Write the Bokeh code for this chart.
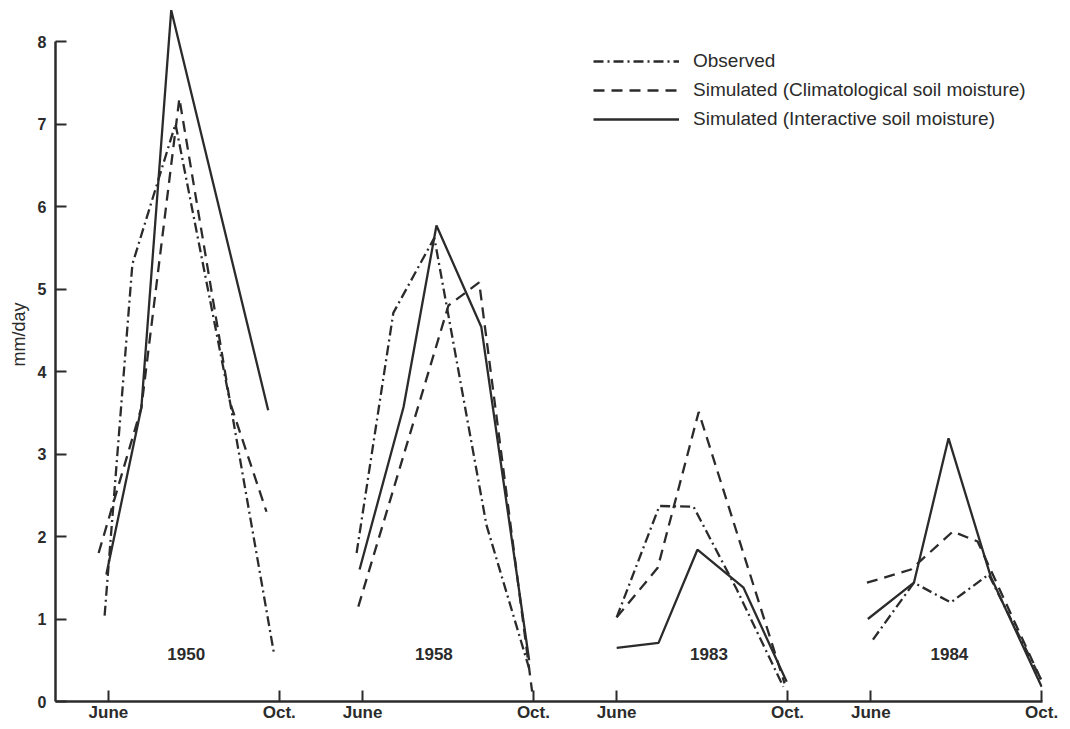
from bokeh.plotting import figure
from bokeh.models import Range1d, FixedTicker, Legend, LegendItem, Title, ColumnDataSource
from bokeh.core.properties import value
from bokeh.embed import file_html
from bokeh.resources import INLINE

# ---------------- data (months after the June tick of each season) ----------------
years = ["1950", "1958", "1983", "1984"]
tick_names = ["June", "Oct."]

obs_month = [[-0.09, 0.56, 1.57, 2.85, 3.88],
             [-0.14, 0.72, 1.68, 2.90, 3.90],
             [0.00, 1.00, 1.80, 2.81, 3.90],
             [0.05, 1.01, 1.87, 2.76, 4.00]]
obs_value = [[1.04, 5.30, 7.00, 3.62, 0.57],
             [1.80, 4.71, 5.62, 2.14, 0.40],
             [1.02, 2.37, 2.36, 1.36, 0.18],
             [0.75, 1.44, 1.20, 1.54, 0.25]]

clim_month = [[-0.23, 0.77, 1.66, 2.85, 3.70],
              [-0.10, 2.01, 2.73, 3.97],
              [0.00, 0.96, 1.92, 3.93],
              [-0.09, 0.94, 1.92, 2.50, 4.00]]
clim_value = [[1.80, 3.56, 7.31, 3.62, 2.30],
              [1.15, 4.80, 5.08, 0.12],
              [1.02, 1.62, 3.51, 0.22],
              [1.44, 1.60, 2.06, 1.94, 0.25]]

inter_month = [[-0.05, 0.77, 1.47, 3.74],
               [-0.07, 0.96, 1.73, 2.78, 3.90],
               [0.00, 0.98, 1.89, 2.97, 3.98],
               [-0.07, 1.01, 1.82, 2.81, 4.00]]
inter_value = [[1.54, 3.56, 8.38, 3.53],
               [1.60, 3.57, 5.77, 4.54, 0.50],
               [0.65, 0.71, 1.84, 1.38, 0.24],
               [1.00, 1.44, 3.19, 1.51, 0.18]]

series_labels = ["Observed",
                 "Simulated (Climatological soil moisture)",
                 "Simulated (Interactive soil moisture)"]
y_title = "mm/day"

# ---------------- layout constants ----------------
U = 20                      # axis units per month
SEASON_GAP = 119            # axis units between the June ticks of consecutive seasons
SEASON_LEN = 4 * U          # June -> Oct.
YEAR_LABEL_DX = [1.82, 1.67, 2.16, 1.84]   # label centre, months after June
YEAR_LABEL_Y = 0.58
INK = "#2b2b2b"
FONT = "Liberation Sans"


def build(months, values):
    xs, ys = [], []
    for i, (m, v) in enumerate(zip(months, values)):
        xs.append([SEASON_GAP * i + U * mm for mm in m])
        ys.append(list(v))
    return ColumnDataSource(dict(xs=xs, ys=ys))


p = figure(width=1062, height=724,
           x_range=Range1d(-24.8, 437.4), y_range=Range1d(0, 8.40),
           output_backend="svg", toolbar_location=None,
           min_border_left=54, min_border_right=20,
           min_border_top=8, min_border_bottom=22)
p.outline_line_color = None
p.xgrid.visible = False
p.ygrid.visible = False
p.background_fill_color = "white"
p.border_fill_color = "white"

r_obs = p.multi_line("xs", "ys", source=build(obs_month, obs_value),
                     line_color=INK, line_width=2.3, line_dash="10 4 2 4")
r_clim = p.multi_line("xs", "ys", source=build(clim_month, clim_value),
                      line_color=INK, line_width=2.3, line_dash="11 7")
r_inter = p.multi_line("xs", "ys", source=build(inter_month, inter_value),
                       line_color=INK, line_width=2.3)

# year labels
p.text(x=[SEASON_GAP * i + U * d for i, d in enumerate(YEAR_LABEL_DX)],
       y=[YEAR_LABEL_Y] * len(years), text=years,
       text_align="center", text_baseline="middle",
       text_font=value(FONT), text_font_style="bold",
       text_font_size="17px", text_color=INK)

# axes
for ax in (p.xaxis[0], p.yaxis[0]):
    ax.axis_line_width = 2.5
    ax.axis_line_color = INK
    ax.major_tick_line_width = 2
    ax.major_tick_line_color = INK
    ax.major_tick_in = 11
    ax.major_tick_out = 0
    ax.minor_tick_in = 0
    ax.minor_tick_out = 0
    ax.major_label_text_font = FONT
    ax.major_label_text_font_style = "bold"
    ax.major_label_text_color = INK

p.yaxis.major_label_text_font_size = "16px"
p.xaxis.major_label_text_font_size = "17px"

p.yaxis.ticker = FixedTicker(ticks=list(range(0, 9)))
p.yaxis.bounds = (0, 8)
p.yaxis.major_label_standoff = 9

june_ticks = [SEASON_GAP * i for i in range(len(years))]
oct_ticks = [SEASON_GAP * i + SEASON_LEN for i in range(len(years))]
p.xaxis.ticker = FixedTicker(ticks=sorted(june_ticks + oct_ticks))
overrides = {}
for t in june_ticks:
    overrides[t] = tick_names[0]
for t in oct_ticks:
    overrides[t] = tick_names[1]
p.xaxis.major_label_overrides = overrides
p.xaxis.major_label_standoff = 1

# y axis title (placed as a side title so it can be offset upward)
p.add_layout(Title(text=y_title, align="left", offset=335, standoff=12,
                   text_font=FONT, text_font_size="18px",
                   text_font_style="normal", text_color=INK), "left")

# legend
legend = Legend(items=[LegendItem(label=series_labels[0], renderers=[r_obs]),
                       LegendItem(label=series_labels[1], renderers=[r_clim]),
                       LegendItem(label=series_labels[2], renderers=[r_inter])],
                location=(538, 571), orientation="vertical",
                glyph_width=86, glyph_height=22, label_height=22,
                label_standoff=14, spacing=7, padding=0, margin=0,
                border_line_color=None, background_fill_alpha=0,
                label_text_font=FONT, label_text_font_size="19px",
                label_text_color=INK)
p.add_layout(legend)

open("out.html", "w").write(file_html(p, INLINE))
